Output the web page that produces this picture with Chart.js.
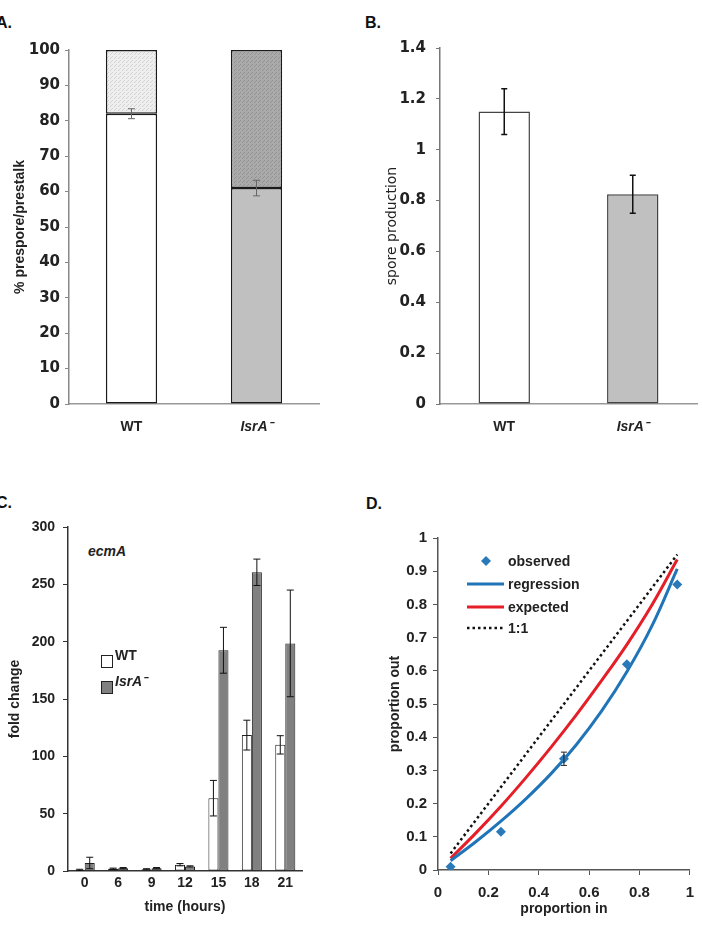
<!DOCTYPE html>
<html>
<head>
<meta charset="utf-8">
<script src="https://cdn.jsdelivr.net/npm/chart.js@4.4.1/dist/chart.umd.min.js"></script>
<style>
  body { margin: 0; background: #fff; width: 703px; height: 932px; position: relative; overflow: hidden; }
  canvas { position: absolute; }
  .letter { position: absolute; font: bold 16px "Liberation Sans", Arial, sans-serif; color: #111; line-height: 16px; }
  .note { position: absolute; font: italic bold 14px "Liberation Sans", Arial, sans-serif; color: #222; line-height: 14px; }
</style>
</head>
<body>
<div class="letter" style="left:-4px;top:15px">A.</div>
<div class="letter" style="left:365px;top:15px">B.</div>
<div class="letter" style="left:-4px;top:495px">C.</div>
<div class="letter" style="left:366px;top:496px">D.</div>
<div class="note" style="left:88px;top:544px">ecmA</div>

<canvas id="chartA" width="350" height="460" style="left:0;top:0"></canvas>
<canvas id="chartB" width="353" height="460" style="left:350px;top:0"></canvas>
<canvas id="chartC" width="350" height="462" style="left:0;top:470px"></canvas>
<canvas id="chartD" width="353" height="462" style="left:350px;top:470px"></canvas>

<script>
// panel A: prespore / prestalk proportions
const strains = ["WT", "IsrA\u207B"];
const presporePct = [82, 61];
const prestalkPct = [18, 39];
const presporeErr = [1.4, 2.2];

// panel B: spore production
const sporeProduction = [1.15, 0.825];
const sporeErr = [0.09, 0.075];

// panel C: ecmA fold change over time
const hours = ["0", "6", "9", "12", "15", "18", "21"];
const wtFold = [1, 2, 1.5, 5.5, 63.5, 118.5, 110];
const wtFoldErr = [0.5, 0.5, 0.5, 1, 15.5, 13, 8];
const isrFold = [7, 2.5, 2.5, 4, 192.5, 260.5, 198.5];
const isrFoldErr = [5, 0.5, 0.5, 0.5, 20, 11.5, 46.5];

// panel D: proportion in vs proportion out
const propIn = [0.05, 0.25, 0.5, 0.75, 0.95];
const propOut = [0.01, 0.115, 0.335, 0.62, 0.86];
const propOutErr = [0, 0, 0.02, 0, 0];
const curveIn = [0.05, 0.15, 0.25, 0.35, 0.45, 0.55, 0.65, 0.75, 0.85, 0.95];
const regressionOut = [0.028, 0.085, 0.147, 0.215, 0.291, 0.378, 0.479, 0.597, 0.736, 0.907];
const expectedOut = [0.035, 0.111, 0.192, 0.279, 0.371, 0.468, 0.571, 0.679, 0.799, 0.935];
const identityIn = [0.05, 0.95];
const identityOut = [0.05, 0.95];

const SANS = "'Liberation Sans', Arial, sans-serif";
const WIDE = "'DejaVu Sans', Verdana, sans-serif";

const oneDecimal = (v) => String(+Number(v).toFixed(1));

// error bars drawn through each chart's own y scale
const errorBars = {
  id: "errorBars",
  afterDatasetsDraw(chart) {
    const ctx = chart.ctx;
    chart.data.datasets.forEach((ds, i) => {
      if (!ds.errors) return;
      const meta = chart.getDatasetMeta(i);
      const yScale = chart.scales[meta.yAxisID];
      ctx.save();
      ctx.strokeStyle = ds.errorColor || "#000";
      ctx.lineWidth = ds.errorWidth || 1;
      meta.data.forEach((el, j) => {
        const err = ds.errors[j];
        if (!err) return;
        const raw = ds.data[j];
        const v = typeof raw === "object" ? raw.y : raw;
        const top = yScale.getPixelForValue(v + err);
        const bot = yScale.getPixelForValue(v - err);
        const cap = ds.errorCap || 3;
        ctx.beginPath();
        ctx.moveTo(el.x, top); ctx.lineTo(el.x, bot);
        ctx.moveTo(el.x - cap, top); ctx.lineTo(el.x + cap, top);
        ctx.moveTo(el.x - cap, bot); ctx.lineTo(el.x + cap, bot);
        ctx.stroke();
      });
      ctx.restore();
    });
  }
};

function stipple(ctx, base, dot) {
  const c = document.createElement("canvas");
  c.width = 4; c.height = 4;
  const g = c.getContext("2d");
  g.fillStyle = base; g.fillRect(0, 0, 4, 4);
  g.fillStyle = dot;
  g.fillRect(0, 0, 1, 1); g.fillRect(2, 2, 1, 1);
  g.fillRect(3, 1, 1, 1);
  return ctx.createPattern(c, "repeat");
}

const catFont = (c) => ({ family: SANS, size: 14, weight: "bold", style: c.index === 1 ? "italic" : "normal" });

// ---------- A ----------
const ctxA = document.getElementById("chartA").getContext("2d");
new Chart(ctxA, {
  type: "bar",
  data: {
    labels: strains,
    datasets: [
      {
        label: "prespore",
        data: presporePct,
        errors: presporeErr,
        errorColor: "#666", errorWidth: 1, errorCap: 3.5,
        backgroundColor: ["#ffffff", "#c0c0c0"],
        borderColor: "#1a1a1a", borderWidth: 1.5, borderSkipped: false,
        barPercentage: 0.41, categoryPercentage: 1
      },
      {
        label: "prestalk",
        data: prestalkPct,
        backgroundColor: [stipple(ctxA, "#eeeeee", "#d2d2d2"), stipple(ctxA, "#aaaaaa", "#939393")],
        borderColor: "#1a1a1a", borderWidth: 1.5, borderSkipped: false,
        barPercentage: 0.41, categoryPercentage: 1
      }
    ]
  },
  options: {
    responsive: false,
    animation: false,
    layout: { padding: { top: 50, right: 31, left: 0, bottom: 0 } },
    plugins: { legend: { display: false }, tooltip: { enabled: false } },
    scales: {
      x: {
        stacked: true,
        grid: { display: false, drawTicks: false },
        border: { color: "#999", width: 1.5 },
        ticks: { font: catFont, color: "#222", padding: 15 },
        afterFit: (s) => { s.height = 56; }
      },
      y: {
        stacked: true, min: 0, max: 100,
        ticks: { stepSize: 10, font: { family: WIDE, size: 15, weight: "bold" }, color: "#222", padding: 5 },
        grid: { drawOnChartArea: false, tickLength: 4, color: "#888" },
        border: { color: "#888", width: 1.5 },
        title: { display: true, text: "% prespore/prestalk", font: { family: SANS, size: 14, weight: "bold" }, color: "#222", padding: { top: 11.6, bottom: 0 } },
        afterFit: (s) => { s.width = 69; }
      }
    }
  },
  plugins: [errorBars]
});

// ---------- B ----------
new Chart(document.getElementById("chartB"), {
  type: "bar",
  data: {
    labels: strains,
    datasets: [{
      label: "spore production",
      data: sporeProduction,
      errors: sporeErr,
      errorColor: "#111", errorWidth: 1.5, errorCap: 3,
      backgroundColor: ["#ffffff", "#c0c0c0"],
      borderColor: "#444", borderWidth: 1.5, borderSkipped: false,
      barPercentage: 0.4, categoryPercentage: 1
    }]
  },
  options: {
    responsive: false,
    animation: false,
    layout: { padding: { top: 48, right: 6, left: 0, bottom: 0 } },
    plugins: { legend: { display: false }, tooltip: { enabled: false } },
    scales: {
      x: {
        grid: { display: false, drawTicks: false },
        border: { color: "#999", width: 1.5 },
        ticks: { font: catFont, color: "#222", padding: 15 },
        afterFit: (s) => { s.height = 56; }
      },
      y: {
        min: 0, max: 1.4,
        ticks: { stepSize: 0.2, callback: oneDecimal, font: { family: WIDE, size: 15, weight: "bold" }, color: "#222", padding: 10 },
        grid: { drawOnChartArea: false, tickLength: 4, color: "#777" },
        border: { color: "#777", width: 1.5 },
        title: { display: true, text: "spore production", font: { family: WIDE, size: 14 }, color: "#222", padding: { top: 33.6, bottom: 0 } },
        afterFit: (s) => { s.width = 90; }
      }
    }
  },
  plugins: [errorBars]
});

// ---------- C ----------
const legendC = {
  id: "legendC",
  afterDraw(chart) {
    const ctx = chart.ctx;
    const rows = [185, 211];
    ctx.save();
    chart.data.datasets.forEach((ds, i) => {
      const y = rows[i];
      ctx.fillStyle = ds.backgroundColor;
      ctx.strokeStyle = ds.borderColor;
      ctx.lineWidth = 1;
      ctx.fillRect(101.5, y + 0.5, 11, 12);
      ctx.strokeRect(101.5, y + 0.5, 11, 12);
      ctx.fillStyle = "#222";
      ctx.textBaseline = "alphabetic";
      ctx.font = (i === 1 ? "italic " : "") + "bold 14px " + SANS;
      ctx.fillText(ds.label, 115, y + 4.5);
    });
    ctx.restore();
  }
};

new Chart(document.getElementById("chartC"), {
  type: "bar",
  data: {
    labels: hours,
    datasets: [
      {
        label: "WT",
        data: wtFold,
        errors: wtFoldErr,
        errorColor: "#111", errorWidth: 1, errorCap: 3.5,
        backgroundColor: "#ffffff",
        borderColor: "#222", borderWidth: 1, borderSkipped: false,
        barPercentage: 1, categoryPercentage: 0.6
      },
      {
        label: "IsrA\u207B",
        data: isrFold,
        errors: isrFoldErr,
        errorColor: "#111", errorWidth: 1, errorCap: 3.5,
        backgroundColor: "#808080",
        borderColor: "#222", borderWidth: 1, borderSkipped: false,
        barPercentage: 1, categoryPercentage: 0.6
      }
    ]
  },
  options: {
    responsive: false,
    animation: false,
    layout: { padding: { top: 57, right: 48, left: 0, bottom: 0 } },
    plugins: { legend: { display: false }, tooltip: { enabled: false } },
    scales: {
      x: {
        grid: { display: false, drawTicks: false },
        border: { color: "#333", width: 1.5 },
        ticks: { font: { family: SANS, size: 14, weight: "bold" }, color: "#222", padding: 4 },
        title: { display: true, text: "time (hours)", font: { family: SANS, size: 14, weight: "bold" }, color: "#222", padding: { top: 4, bottom: 16.6 } },
        afterFit: (s) => { s.height = 61; }
      },
      y: {
        min: 0, max: 300,
        ticks: { stepSize: 50, font: { family: SANS, size: 14, weight: "bold" }, color: "#222", padding: 8 },
        grid: { drawOnChartArea: false, tickLength: 5, color: "#333" },
        border: { color: "#333", width: 1.5 },
        title: { display: true, text: "fold change", font: { family: SANS, size: 14, weight: "bold" }, color: "#222", padding: { top: 6.6, bottom: 0 } },
        afterFit: (s) => { s.width = 68; }
      }
    }
  },
  plugins: [errorBars, legendC]
});

// ---------- D ----------
const legendD = {
  id: "legendD",
  afterDraw(chart) {
    const ctx = chart.ctx;
    const rows = [91, 114, 137, 158];
    ctx.save();
    chart.data.datasets.forEach((ds, i) => {
      const y = rows[i];
      if (ds.showLine === false) {
        const r = ds.pointRadius;
        ctx.fillStyle = ds.pointBackgroundColor;
        ctx.beginPath();
        ctx.moveTo(136, y - r); ctx.lineTo(136 + r, y); ctx.lineTo(136, y + r); ctx.lineTo(136 - r, y);
        ctx.closePath(); ctx.fill();
      } else {
        ctx.strokeStyle = ds.borderColor;
        ctx.lineWidth = ds.borderWidth;
        ctx.setLineDash(ds.borderDash || []);
        ctx.beginPath(); ctx.moveTo(117, y); ctx.lineTo(154, y); ctx.stroke();
        ctx.setLineDash([]);
      }
      ctx.fillStyle = "#222";
      ctx.font = "bold 14px " + SANS;
      ctx.textBaseline = "middle";
      ctx.fillText(ds.label, 158, y + 1);
    });
    ctx.restore();
  }
};

const pairs = (xs, ys) => xs.map((x, i) => ({ x, y: ys[i] }));

new Chart(document.getElementById("chartD"), {
  type: "scatter",
  data: {
    datasets: [
      {
        label: "observed",
        data: pairs(propIn, propOut),
        errors: propOutErr,
        errorColor: "#222", errorWidth: 1, errorCap: 3,
        showLine: false,
        pointStyle: "rectRot", pointRadius: 5,
        pointBackgroundColor: "#2a7ab9", pointBorderColor: "#2a7ab9", pointBorderWidth: 0,
        order: 0
      },
      {
        label: "regression",
        data: pairs(curveIn, regressionOut),
        showLine: true, borderColor: "#2075b8", borderWidth: 3,
        pointRadius: 0, tension: 0.4, order: 1
      },
      {
        label: "expected",
        data: pairs(curveIn, expectedOut),
        showLine: true, borderColor: "#e51f28", borderWidth: 3,
        pointRadius: 0, tension: 0.4, order: 2
      },
      {
        label: "1:1",
        data: pairs(identityIn, identityOut),
        showLine: true, borderColor: "#111", borderWidth: 2.5, borderDash: [2.5, 3],
        pointRadius: 0, order: 3
      }
    ]
  },
  options: {
    responsive: false,
    animation: false,
    layout: { padding: { top: 68, right: 9, left: 0, bottom: 0 } },
    plugins: { legend: { display: false }, tooltip: { enabled: false } },
    scales: {
      x: {
        type: "linear", min: 0, max: 1,
        ticks: { stepSize: 0.2, callback: oneDecimal, font: { family: SANS, size: 15, weight: "bold" }, color: "#222", padding: 9 },
        grid: { drawOnChartArea: false, tickLength: 5, color: "#555" },
        border: { color: "#555", width: 1.5 },
        title: { display: true, text: "proportion in", font: { family: SANS, size: 14, weight: "bold" }, color: "#222", padding: { top: 0, bottom: 14.6 } },
        afterFit: (s) => { s.height = 62; }
      },
      y: {
        min: 0, max: 1,
        ticks: { stepSize: 0.1, callback: oneDecimal, font: { family: SANS, size: 15, weight: "bold" }, color: "#222", padding: 6 },
        grid: { drawOnChartArea: false, tickLength: 5, color: "#555" },
        border: { color: "#555", width: 1.5 },
        title: { display: true, text: "proportion out", font: { family: SANS, size: 14, weight: "bold" }, color: "#222", padding: { top: 36.6, bottom: 0 } },
        afterFit: (s) => { s.width = 88; }
      }
    }
  },
  plugins: [errorBars, legendD]
});
</script>
</body>
</html>
